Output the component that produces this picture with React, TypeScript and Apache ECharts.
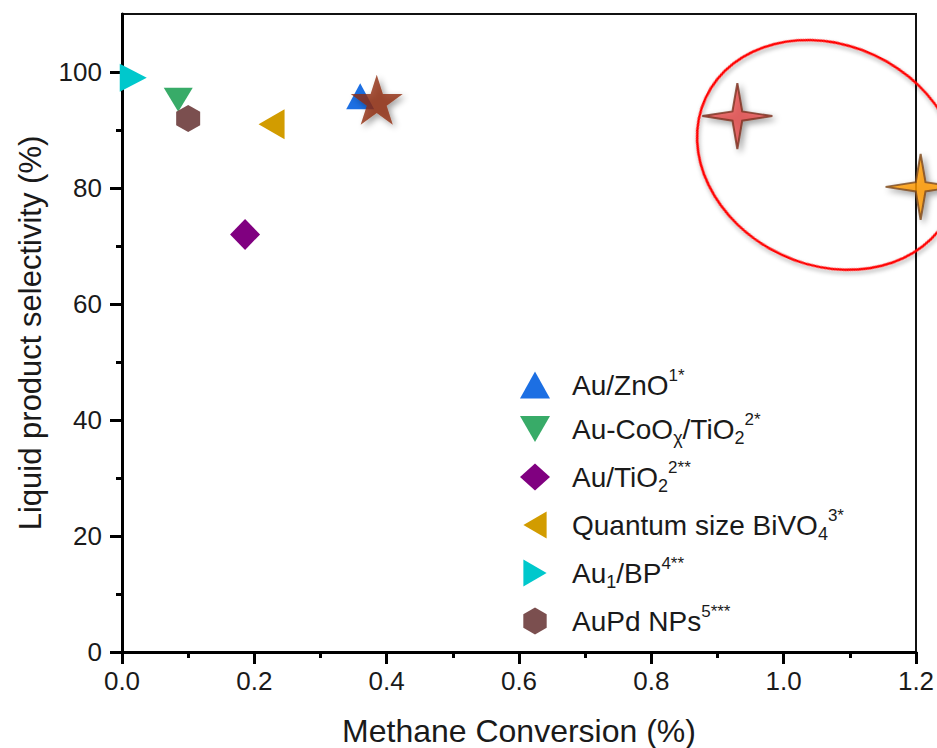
import React, { useEffect, useRef } from "react";
import * as echarts from "echarts";

const FONT = "'Liberation Sans', Arial, sans-serif";

// Legend series (name, rich label, x = methane conversion %, y = selectivity %)
const seriesNames = ["Au/ZnO", "Au-CoOχ/TiO2", "Au/TiO2", "Quantum size BiVO4", "Au1/BP", "AuPd NPs"];
const seriesRich = [
  "{a|Au/ZnO}{sup|1*}",
  "{a|Au-CoO}{sub|χ}{a|/TiO}{sub|2}{sup|2*}",
  "{a|Au/TiO}{sub|2}{sup|2**}",
  "{a|Quantum size BiVO}{sub|4}{sup|3*}",
  "{a|Au}{sub|1}{a|/BP}{sup|4**}",
  "{a|AuPd NPs}{sup|5***}",
];
const seriesX = [0.36, 0.085, 0.186, 0.226, 0.017, 0.1];
const seriesY = [95.8, 95.2, 72, 91, 99, 92];
const seriesColors = ["#1c6fe3", "#38ab68", "#800080", "#d29c00", "#00c8cc", "#7b4f4f"];

// Highlight points (this work), not in legend
const starBrownX = [0.385];
const starBrownY = [95.2];
const starRedX = [0.93];
const starRedY = [92.4];
const starOrangeX = [1.207];
const starOrangeY = [80.2];

const xTicks = [0, 0.2, 0.4, 0.6, 0.8, 1.0, 1.2];
const yTicks = [0, 20, 40, 60, 80, 100];
const yMinorTicks = [10, 30, 50, 70, 90];

const HEX = "path://M0,-100 L86.6,-50 L86.6,50 L0,100 L-86.6,50 L-86.6,-50 Z";
const TRI_DOWN = "path://M-50,-43 L50,-43 L0,43 Z";
const TRI_LEFT = "path://M43,-50 L43,50 L-43,0 Z";
const TRI_RIGHT = "path://M-43,-50 L-43,50 L43,0 Z";
const STAR5 =
  "path://M0,-50 L11.23,-15.45 L47.55,-15.45 L18.16,5.9 L29.39,40.45 L0,19.1 L-29.39,40.45 L-18.16,5.9 L-47.55,-15.45 L-11.23,-15.45 Z";
const STAR4 = "path://M0,-50 L7,-7 L50,0 L7,7 L0,50 L-7,7 L-50,0 L-7,-7 Z";

const symbols = ["triangle", TRI_DOWN, "diamond", TRI_LEFT, TRI_RIGHT, HEX];
const sizes: any[] = [[28, 26], [29, 24], [30, 31], [26, 30], [27, 28], [24, 27]];

export default function App() {
  const ref = useRef<HTMLDivElement>(null);
  useEffect(() => {
    document.body.style.margin = "0";
    const chart = echarts.init(ref.current!, null, { renderer: "svg" });
    const shadow = {
      shadowBlur: 6,
      shadowOffsetX: 3,
      shadowOffsetY: 3,
      shadowColor: "rgba(0,0,0,0.45)",
    };
    const series: any[] = seriesNames.map((n, i) => ({
      name: n,
      type: "scatter",
      symbol: symbols[i],
      symbolSize: sizes[i],
      clip: false,
      itemStyle: { color: seriesColors[i], opacity: 1 },
      data: [[seriesX[i], seriesY[i]]],
      z: 3,
    }));
    series.push({
      name: "star-brown",
      type: "scatter",
      symbol: STAR5,
      symbolSize: [52, 50],
      clip: false,
      itemStyle: { color: "#8f2a0b", ...shadow },
      data: starBrownX.map((x, i) => [x, starBrownY[i]]),
      z: 4,
    });
    series.push({
      name: "star-red",
      type: "scatter",
      symbol: STAR4,
      symbolSize: [70, 66],
      clip: false,
      itemStyle: { color: "#e24a4a", borderColor: "#7a3220", borderWidth: 2, ...shadow },
      data: starRedX.map((x, i) => [x, starRedY[i]]),
      z: 4,
    });
    series.push({
      name: "star-orange",
      type: "scatter",
      symbol: STAR4,
      symbolSize: [70, 66],
      clip: false,
      itemStyle: { color: "#ff9a00", borderColor: "#7a4a20", borderWidth: 2, ...shadow },
      data: starOrangeX.map((x, i) => [x, starOrangeY[i]]),
      z: 4,
    });

    const axisLine = { show: true, onZero: false, lineStyle: { color: "#000", width: 3 } };
    const option: any = {
      animation: false,
      backgroundColor: "#fff",
      grid: {
        left: 122,
        right: 21,
        top: 14,
        bottom: 96,
        containLabel: false,
        outerBoundsMode: "none",
        show: true,
        borderColor: "#111",
        borderWidth: 2,
      },
      legend: {
        data: seriesNames.map((n, i) => ({ name: n, icon: symbols[i] })),
        orient: "vertical",
        left: 515,
        top: 362,
        itemWidth: 30,
        itemHeight: 27,
        itemGap: 12,
        formatter: (name: string) => "{g|}" + seriesRich[seriesNames.indexOf(name)],
        textStyle: {
          fontFamily: FONT,
          color: "#1a1a1a",
          rich: {
            g: { width: 17 },
            a: { fontSize: 28, lineHeight: 36, fontFamily: FONT, color: "#1a1a1a" },
            sub: { fontSize: 18, lineHeight: 18, verticalAlign: "bottom", fontFamily: FONT, color: "#1a1a1a" },
            sup: { fontSize: 17, lineHeight: 17, verticalAlign: "top", fontFamily: FONT, color: "#1a1a1a" },
          },
        },
      },
      xAxis: {
        type: "value",
        min: 0,
        max: 1.2,
        interval: 0.2,
        name: "Methane Conversion (%)",
        nameLocation: "middle",
        nameGap: 63,
        nameTextStyle: { fontFamily: FONT, fontSize: 32, color: "#1a1a1a" },
        axisLine,
        axisTick: { show: true, inside: false, length: 12, lineStyle: { width: 3, color: "#000" } },
        minorTick: { show: true, splitNumber: 2, length: 6, lineStyle: { width: 3, color: "#000" } },
        axisLabel: {
          fontFamily: FONT,
          fontSize: 26,
          color: "#1a1a1a",
          margin: 16,
          customValues: xTicks,
          formatter: (v: number) => v.toFixed(1),
        },
        splitLine: { show: false },
      },
      yAxis: [
        {
          type: "value",
          min: 0,
          max: 110,
          interval: 20,
          name: "Liquid product selectivity (%)",
          nameLocation: "middle",
          nameGap: 76,
          nameTextStyle: { fontFamily: FONT, fontSize: 31, color: "#1a1a1a" },
          axisLine,
          axisTick: { show: true, inside: false, length: 12, customValues: yTicks, lineStyle: { width: 3, color: "#000" } },
          axisLabel: { fontFamily: FONT, fontSize: 26, color: "#1a1a1a", margin: 20, customValues: yTicks },
          splitLine: { show: false },
        },
        {
          type: "value",
          min: 0,
          max: 110,
          interval: 20,
          position: "left",
          axisLine: { show: false },
          axisTick: { show: true, inside: false, length: 6, customValues: yMinorTicks, lineStyle: { width: 3, color: "#000" } },
          axisLabel: { show: false },
          splitLine: { show: false },
        },
      ],
      series,
    };
    chart.setOption(option);
    const c = chart.convertToPixel({ xAxisIndex: 0, yAxisIndex: 0 }, [1.067, 85.7]) as number[];
    chart.setOption({
      graphic: [
        {
          type: "ellipse",
          x: c[0],
          y: c[1],
          rotation: (-25 * Math.PI) / 180,
          shape: { cx: 0, cy: 0, rx: 135, ry: 110 },
          style: {
            fill: "none",
            stroke: "#ff0000",
            lineWidth: 2.5,
            shadowBlur: 4,
            shadowOffsetX: 2,
            shadowOffsetY: 2,
            shadowColor: "rgba(0,0,0,0.35)",
          },
          z: 100,
          silent: true,
        },
      ],
    });
    return () => chart.dispose();
  }, []);
  return <div ref={ref} style={{ width: 937, height: 748 }} />;
}
